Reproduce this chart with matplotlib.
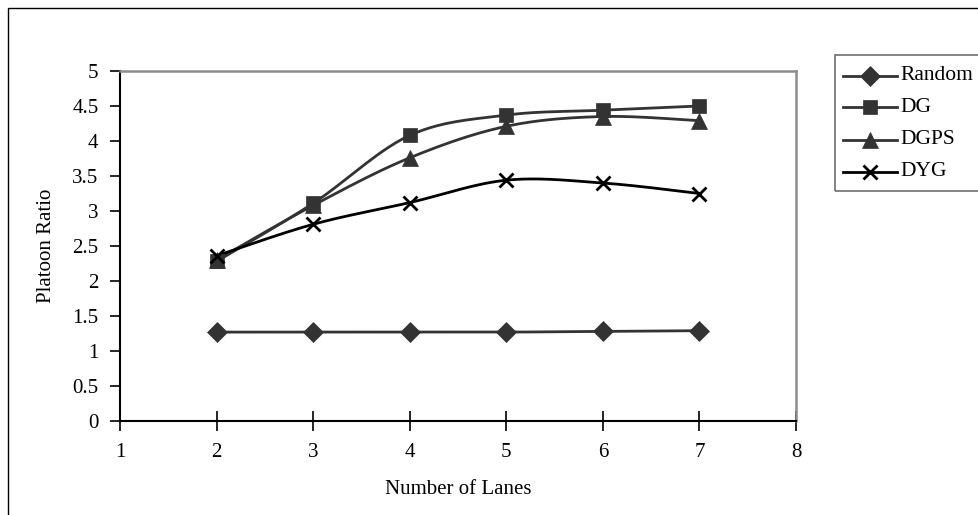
import numpy as np
import matplotlib
matplotlib.use("Agg")
import matplotlib.pyplot as plt
from matplotlib.patches import Rectangle
from matplotlib.lines import Line2D

plt.rcParams['font.family'] = ['Liberation Serif', 'DejaVu Serif']

lanes = [2, 3, 4, 5, 6, 7]
random_ratio = [1.27, 1.27, 1.27, 1.27, 1.28, 1.29]
dg_ratio = [2.28, 3.11, 4.08, 4.37, 4.44, 4.50]
dgps_ratio = [2.30, 3.08, 3.76, 4.21, 4.35, 4.29]
dyg_ratio = [2.36, 2.81, 3.12, 3.44, 3.40, 3.25]
series_names = ["Random", "DG", "DGPS", "DYG"]
x_ticks = [1, 2, 3, 4, 5, 6, 7, 8]
y_ticks = [0, 0.5, 1, 1.5, 2, 2.5, 3, 3.5, 4, 4.5, 5]


def smooth(xs, ys, n=30):
    """Catmull-Rom style smoothing through every point (spreadsheet 'smoothed line')."""
    xs = np.asarray(xs, float)
    ys = np.asarray(ys, float)
    px = np.concatenate([[xs[0]], xs, [xs[-1]]])
    py = np.concatenate([[ys[0]], ys, [ys[-1]]])
    ox, oy = [], []
    for i in range(1, len(px) - 2):
        p0 = np.array([px[i], py[i]])
        p3 = np.array([px[i + 1], py[i + 1]])
        c1 = p0 + (np.array([px[i + 1], py[i + 1]]) - np.array([px[i - 1], py[i - 1]])) / 6
        c2 = p3 - (np.array([px[i + 2], py[i + 2]]) - np.array([px[i], py[i]])) / 6
        t = np.linspace(0, 1, n)[:, None]
        b = ((1 - t) ** 3) * p0 + 3 * ((1 - t) ** 2) * t * c1 + 3 * (1 - t) * t ** 2 * c2 + t ** 3 * p3
        ox.extend(b[:, 0])
        oy.extend(b[:, 1])
    return np.array(ox), np.array(oy)


W, H = 979, 515
fig = plt.figure(figsize=(W / 100, H / 100), dpi=100)

# chart frame (extends past right and bottom edges)
fig.add_artist(Rectangle((8 / W, -0.1), 1.2, (H - 8) / H + 0.1,
                         transform=fig.transFigure, fill=False,
                         edgecolor="black", linewidth=1.0))

ax = fig.add_axes([120 / W, (H - 421) / H, (796 - 120) / W, (421 - 71) / H])

gray = "#333333"
styles = [
    (random_ratio, "D", gray, 10),
    (dg_ratio, "s", gray, 10.5),
    (dgps_ratio, "^", gray, 11),
    (dyg_ratio, "x", "black", 10),
]
for vals, mk, col, ms in styles:
    sx, sy = smooth(lanes, vals)
    ax.plot(sx, sy, color=col, linewidth=2.0, zorder=3, solid_capstyle="round")
for vals, mk, col, ms in styles:
    ax.plot(lanes, vals, linestyle="none", marker=mk, markersize=ms,
            color=col, markeredgecolor=col,
            markeredgewidth=2.0 if mk == "x" else 0.5, zorder=4)

ax.set_xlim(1, 8)
ax.set_ylim(0, 5)
ax.set_xticks(x_ticks)
ax.set_yticks(y_ticks)
ax.set_yticklabels([f"{v:g}" for v in y_ticks])
ax.tick_params(axis="y", direction="out", length=7, width=1.2, labelsize=15, pad=8.5)
ax.tick_params(axis="x", direction="inout", length=14, width=1.2, labelsize=15, pad=9)
for s in ("left", "bottom"):
    ax.spines[s].set_color("black")
    ax.spines[s].set_linewidth(1.5)
for s in ("top", "right"):
    ax.spines[s].set_color("#8c8c8c")
    ax.spines[s].set_linewidth(1.8)

fig.text(458 / W, 1 - 489 / H, "Number of Lanes", ha="center", va="center", fontsize=15)
fig.text(47 / W, 1 - 246 / H, "Platoon Ratio", ha="center", va="center",
         rotation=90, fontsize=15)

# legend box
fig.add_artist(Rectangle((835 / W, (H - 191) / H), 0.3, (191 - 55) / H,
                         transform=fig.transFigure, fill=False,
                         edgecolor="#6e6e6e", linewidth=1.2))
leg_y = [76, 107, 140, 172]
for name, (vals, mk, col, ms), yy in zip(series_names, styles, leg_y):
    fy = 1 - yy / H
    fig.add_artist(Line2D([843 / W, 897 / W], [fy, fy], transform=fig.transFigure,
                          color=col, linewidth=2.0))
    fig.add_artist(Line2D([870 / W], [fy], transform=fig.transFigure,
                          marker=mk, markersize=ms, color=col, markeredgecolor=col,
                          markeredgewidth=2.0 if mk == "x" else 0.5, linestyle="none"))
    fig.text(900 / W, fy, name, ha="left", va="center", fontsize=15.5)

fig.savefig("out.png", dpi=100)
